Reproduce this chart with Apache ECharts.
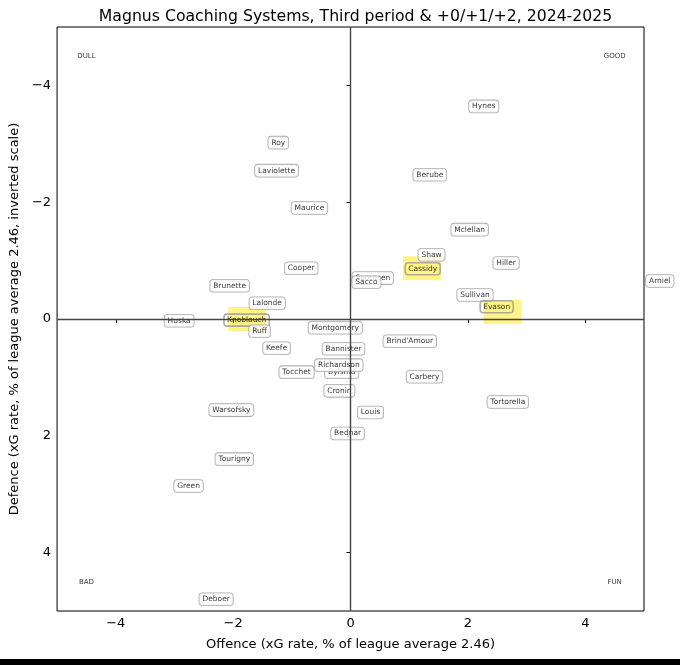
<!DOCTYPE html>
<html>
<head>
<meta charset="utf-8">
<script src="https://cdn.jsdelivr.net/npm/echarts@6/dist/echarts.min.js"></script>
<style>
  html, body { margin: 0; padding: 0; background: #fff; }
  #main { width: 680px; height: 665px; }
</style>
</head>
<body>
<div id="main"></div>
<script>
var coaches = ['Hynes', 'Roy', 'Laviolette', 'Berube', 'Maurice', 'Mclellan', 'Shaw', 'Hiller',
  'Cooper', 'Cassidy', 'Sorensen', 'Sacco', 'Brunette', 'Arniel', 'Sullivan', 'Lalonde', 'Evason',
  'Huska', 'Knoblauch', 'Ruff', 'Montgomery', "Brind'Amour", 'Keefe', 'Bannister', 'Tocchet',
  'Bylsma', 'Richardson', 'Carbery', 'Cronin', 'Tortorella', 'Warsofsky', 'Louis', 'Bednar',
  'Tourigny', 'Green', 'Deboer'];
var offence = [2.27, -1.23, -1.26, 1.35, -0.70, 2.03, 1.38, 2.65,
  -0.84, 1.23, 0.38, 0.27, -2.06, 5.27, 2.12, -1.42, 2.49,
  -2.92, -1.77, -1.55, -0.26, 1.01, -1.26, -0.12, -0.92,
  -0.15, -0.20, 1.26, -0.19, 2.68, -2.03, 0.34, -0.05,
  -1.98, -2.76, -2.29];
var defence = [-3.64, -3.02, -2.54, -2.47, -1.90, -1.53, -1.10, -0.96,
  -0.87, -0.86, -0.70, -0.63, -0.57, -0.65, -0.41, -0.27, -0.21,
  0.03, 0.02, 0.21, 0.15, 0.38, 0.50, 0.51, 0.91,
  0.91, 0.79, 0.99, 1.23, 1.42, 1.56, 1.60, 1.96,
  2.40, 2.86, 4.80];

// highlighted coaches (yellow squares)
var highlightNames = ['Cassidy', 'Evason', 'Knoblauch'];
var highlightX = [1.22, 2.59, -1.76];
var highlightY = [-0.87, -0.12, 0.00];

var cornerText = ['DULL', 'GOOD', 'BAD', 'FUN'];
var cornerX = [-4.5, 4.5, -4.5, 4.5];
var cornerY = [-4.5, -4.5, 4.5, 4.5];

var tickValues = [-4, -2, 0, 2, 4];

var font = 'DejaVu Sans';
function fmt(v) { return String(v).replace('-', '\u2212'); }

var chart = echarts.init(document.getElementById('main'));

var option = {
  animation: false,
  backgroundColor: '#fff',
  title: {
    text: 'Magnus Coaching Systems, Third period & +0/+1/+2, 2024-2025',
    left: 350.5,
    top: 4,
    textAlign: 'center',
    textStyle: { fontFamily: font, fontSize: 15.7, fontWeight: 'normal', color: '#000' }
  },
  grid: {
    left: 57, right: 36, top: 27, bottom: 54,
    show: true, borderColor: '#000', borderWidth: 1, backgroundColor: 'transparent'
  },
  xAxis: {
    type: 'value', min: -5, max: 5,
    name: 'Offence (xG rate, % of league average 2.46)',
    nameLocation: 'middle', nameGap: 27,
    nameTextStyle: { fontFamily: font, fontSize: 13, color: '#000' },
    axisLine: { show: false },
    splitLine: { show: false },
    axisTick: { show: true, inside: false, length: 4, customValues: tickValues, lineStyle: { color: '#000' } },
    axisLabel: { customValues: tickValues, formatter: fmt, fontFamily: font, fontSize: 13, color: '#000', margin: 6 }
  },
  yAxis: {
    type: 'value', min: -5, max: 5, inverse: true,
    name: 'Defence (xG rate, % of league average 2.46, inverted scale)',
    nameLocation: 'middle', nameGap: 35,
    nameTextStyle: { fontFamily: font, fontSize: 13, color: '#000' },
    axisLine: { show: false },
    splitLine: { show: false },
    axisTick: { show: true, inside: false, length: 4, customValues: tickValues, lineStyle: { color: '#000' } },
    axisLabel: { customValues: tickValues, formatter: fmt, fontFamily: font, fontSize: 13, color: '#000', margin: 6 }
  },
  graphic: [
    { type: 'rect', left: 0, top: 659, shape: { width: 680, height: 6 }, style: { fill: '#000' } }
  ],
  series: [
    {
      type: 'scatter',
      name: 'zero',
      data: [],
      silent: true,
      markLine: {
        silent: true,
        symbol: 'none',
        label: { show: false },
        lineStyle: { color: '#444', width: 1.4, type: 'solid' },
        data: [{ xAxis: 0 }, { yAxis: 0 }]
      }
    },
    {
      type: 'scatter',
      name: 'highlight',
      silent: true,
      z: 1,
      symbol: 'rect',
      symbolSize: [38, 24],
      itemStyle: { color: 'rgba(255,232,0,0.6)' },
      data: highlightX.map(function (x, i) { return { name: highlightNames[i], value: [x, highlightY[i]] }; })
    },
    {
      type: 'scatter',
      name: 'corners',
      silent: true,
      symbolSize: 1,
      itemStyle: { color: 'rgba(0,0,0,0)' },
      data: cornerText.map(function (t, i) { return { name: t, value: [cornerX[i], cornerY[i]] }; }),
      label: {
        show: true, position: 'inside', formatter: '{b}',
        fontFamily: font, fontSize: 7, color: '#000'
      }
    },
    {
      type: 'scatter',
      name: 'coaches',
      clip: false,
      silent: true,
      z: 3,
      symbolSize: 1,
      itemStyle: { color: 'rgba(0,0,0,0)' },
      data: coaches.map(function (c, i) {
        var item = { name: c, value: [offence[i], defence[i]] };
        if (highlightNames.indexOf(c) >= 0) {
          item.label = { backgroundColor: 'rgba(255,255,255,0)' };
        }
        return item;
      }),
      label: {
        show: true, position: 'inside', formatter: '{b}',
        fontFamily: font, fontSize: 7.5, color: '#000',
        backgroundColor: '#fff', borderColor: '#999', borderWidth: 0.8, borderRadius: 3,
        padding: [2, 3, 2, 3]
      },
      labelLayout: { hideOverlap: false }
    }
  ]
};

chart.setOption(option);
</script>
</body>
</html>
